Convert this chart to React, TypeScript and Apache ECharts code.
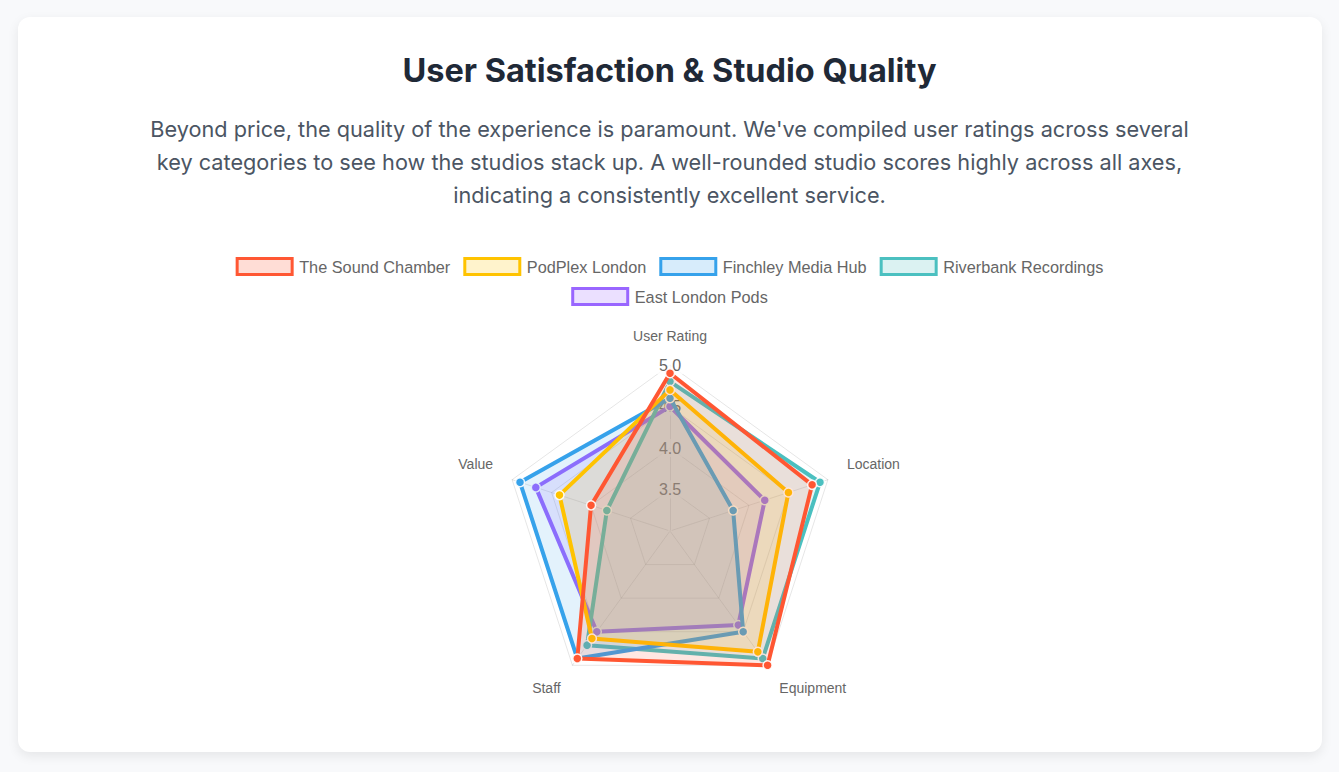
import React, { useEffect, useRef } from "react";
import * as echarts from "echarts";

// Categories in clockwise order starting at the top
const categories = ["User Rating", "Location", "Equipment", "Staff", "Value"];
const studios = [
  "The Sound Chamber",
  "PodPlex London",
  "Finchley Media Hub",
  "Riverbank Recordings",
  "East London Pods",
];
const soundChamber = [4.9, 4.8, 5.0, 4.9, 4.0];
const podPlex = [4.7, 4.5, 4.8, 4.6, 4.4];
const finchley = [4.6, 3.8, 4.5, 4.9, 4.9];
const riverbank = [4.8, 4.9, 4.9, 4.7, 3.8];
const eastLondon = [4.5, 4.2, 4.4, 4.5, 4.7];
const scaleMin = 3;
const scaleMax = 5;
const tickStep = 0.5;

const strokeColors = ["#FF5733", "#FFC300", "#36A2EB", "#4BC0C0", "#9966FF"];
const fillColors = [
  "rgba(255,87,51,0.2)",
  "rgba(255,195,0,0.2)",
  "rgba(54,162,235,0.2)",
  "rgba(75,192,192,0.2)",
  "rgba(153,102,255,0.2)",
];

const seriesValues = [soundChamber, podPlex, finchley, riverbank, eastLondon];

// ECharts lays indicators out counter-clockwise; reorder to match clockwise layout
const ccwOrder = [0, 4, 3, 2, 1];
// label placement group per category (top, side, bottom)
const nameStyleKey: Record<string, string> = {
  "User Rating": "top",
  Location: "side",
  Value: "side",
  Staff: "bottom",
  Equipment: "bottom",
};

export default function App() {
  const ref = useRef<HTMLDivElement>(null);

  useEffect(() => {
    if (!ref.current) return;
    const chart = echarts.init(ref.current, undefined, { renderer: "svg" });
    const font = "'Liberation Sans', Arial, Helvetica, sans-serif";

    const indicator = ccwOrder.map((ci, i) => {
      const ind: any = { name: categories[ci], min: scaleMin, max: scaleMax };
      if (i === 0) ind.axisLabel = { show: true };
      return ind;
    });

    // draw first studio last so it sits on top
    const order = [4, 3, 2, 1, 0];
    const series = order.map((si, k) => ({
      type: "radar",
      name: studios[si],
      z: 2 + k,
      symbol: "circle",
      symbolSize: 9,
      data: [
        {
          name: studios[si],
          value: ccwOrder.map((ci) => seriesValues[si][ci]),
          lineStyle: { color: strokeColors[si], width: 4 },
          itemStyle: { color: strokeColors[si], borderColor: "rgba(255,255,255,0.9)", borderWidth: 1.5 },
          areaStyle: { color: fillColors[si] },
        },
      ],
    }));

    const legendItem = (si: number) => ({
      name: studios[si],
      icon: "rect",
      itemStyle: { color: fillColors[si], borderColor: strokeColors[si], borderWidth: 3 },
    });

    const legendBase = {
      left: "center",
      orient: "horizontal",
      itemWidth: 55,
      itemHeight: 16,
      itemGap: 13,
      padding: 0,
      selectedMode: false,
      textStyle: { fontFamily: font, fontSize: 16.3, color: "#666", padding: [0, 0, 0, 2] },
    };

    const nameRich = {
      top: { color: "#666", fontSize: 14, fontFamily: font, padding: [0, 0, 2, 0] },
      side: { color: "#666", fontSize: 14, fontFamily: font, padding: [0, 0, 20, 0] },
      bottom: { color: "#666", fontSize: 14, fontFamily: font, padding: [14, 0, 0, 0] },
    };

    chart.setOption({
      animation: false,
      legend: [
        { ...legendBase, top: 257, data: [0, 1, 2, 3].map(legendItem) },
        { ...legendBase, top: 287, data: [4].map(legendItem) },
      ],
      radar: {
        center: [670, 531],
        radius: 166,
        startAngle: 90,
        splitNumber: (scaleMax - scaleMin) / tickStep,
        shape: "polygon",
        indicator,
        axisName: {
          color: "#666",
          fontSize: 14,
          fontFamily: font,
          formatter: (name: string) => `{${nameStyleKey[name] || "top"}|${name}}`,
          rich: nameRich,
        },
        nameGap: 20,
        splitLine: { lineStyle: { color: "rgba(0,0,0,0.1)", width: 1 } },
        splitArea: { show: false },
        axisLine: { lineStyle: { color: "rgba(0,0,0,0.1)", width: 1 } },
        axisTick: { show: false },
        axisLabel: {
          show: false,
          margin: 0,
          align: "center",
          verticalAlign: "middle",
          color: "#666",
          fontSize: 16,
          fontFamily: font,
          backgroundColor: "rgba(255,255,255,0.75)",
          padding: [1, 2],
          formatter: (v: number) => (v <= scaleMin ? "" : Number(v).toFixed(1)),
        },
      },
      series,
    });

    return () => chart.dispose();
  }, []);

  return (
    <div style={{ position: "fixed", inset: 0, background: "#f8f9fb", overflow: "hidden" }}>
      <div
        style={{
          position: "absolute",
          left: 18,
          top: 17,
          width: 1304,
          height: 735,
          background: "#fff",
          borderRadius: 12,
          boxShadow: "0 4px 12px rgba(0,0,0,0.08)",
        }}
      />
      <div
        style={{
          position: "absolute",
          left: 0,
          width: 1339,
          top: 50,
          textAlign: "center",
          fontFamily: "Inter, sans-serif",
          fontWeight: 700,
          fontSize: 32.5,
          lineHeight: "42px",
          color: "#1f2937",
        }}
      >
        User Satisfaction &amp; Studio Quality
      </div>
      <div
        style={{
          position: "absolute",
          left: 139,
          width: 1061,
          top: 113,
          textAlign: "center",
          fontFamily: "Inter, sans-serif",
          fontSize: 21.7,
          lineHeight: "33px",
          color: "#4b5563",
        }}
      >
        Beyond price, the quality of the experience is paramount. We've compiled user ratings across several key
        categories to see how the studios stack up. A well-rounded studio scores highly across all axes, indicating a
        consistently excellent service.
      </div>
      <div ref={ref} style={{ position: "absolute", left: 0, top: 0, width: 1339, height: 772 }} />
    </div>
  );
}
